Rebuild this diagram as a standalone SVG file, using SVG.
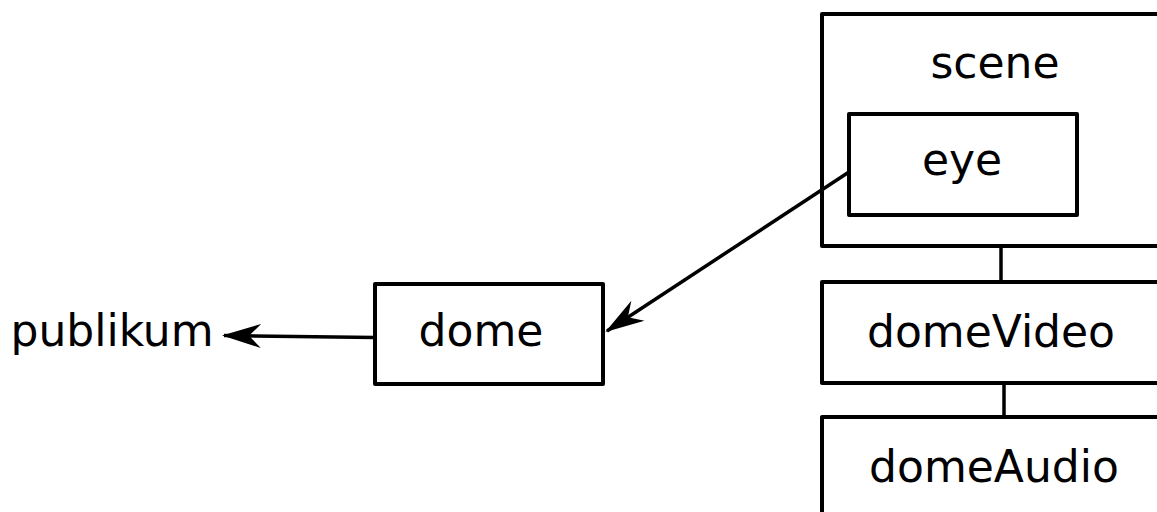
<svg xmlns="http://www.w3.org/2000/svg" width="1157" height="512" viewBox="0 0 1157 512">
<style>
.box{fill:#fff;stroke:#000;stroke-width:4;stroke-linejoin:round}
.lbl{font-family:"DejaVu Sans",Verdana,sans-serif;font-size:44px;fill:#000;text-anchor:middle}
.edge{fill:none;stroke:#000;stroke-width:3.5}
</style>
<defs>
<marker id="arr" markerUnits="userSpaceOnUse" markerWidth="50" markerHeight="30" viewBox="-40 -15 44 30" refX="0" refY="0" orient="auto">
<path d="M2,0 L-37,-12 L-25,0 L-37,12 Z" fill="#000"/>
</marker>
</defs>
<g id="scene">
<rect class="box" x="822" y="14" width="360" height="232"/>
<text class="lbl" x="995" y="78">scene</text>
</g>
<g id="eye">
<rect class="box" x="849" y="114" width="228" height="101"/>
<text class="lbl" x="962" y="175">eye</text>
</g>
<g id="domeVideo">
<rect class="box" x="822" y="282" width="360" height="101"/>
<text class="lbl" x="991" y="347">domeVideo</text>
</g>
<g id="domeAudio">
<rect class="box" x="822" y="417" width="360" height="120"/>
<text class="lbl" x="994" y="482">domeAudio</text>
</g>
<g id="dome">
<rect class="box" x="375" y="284" width="228" height="100"/>
<text class="lbl" x="481" y="346">dome</text>
</g>
<g id="publikum">
<text class="lbl" x="112" y="346">publikum</text>
</g>
<g id="connectors">
<line class="edge" x1="1001" y1="246" x2="1001" y2="283"/>
<line class="edge" x1="1004" y1="383" x2="1004" y2="417"/>
<line class="edge" x1="849" y1="172" x2="607" y2="331" marker-end="url(#arr)"/>
<line class="edge" x1="375" y1="337.5" x2="224" y2="335.5" marker-end="url(#arr)"/>
</g>
</svg>
